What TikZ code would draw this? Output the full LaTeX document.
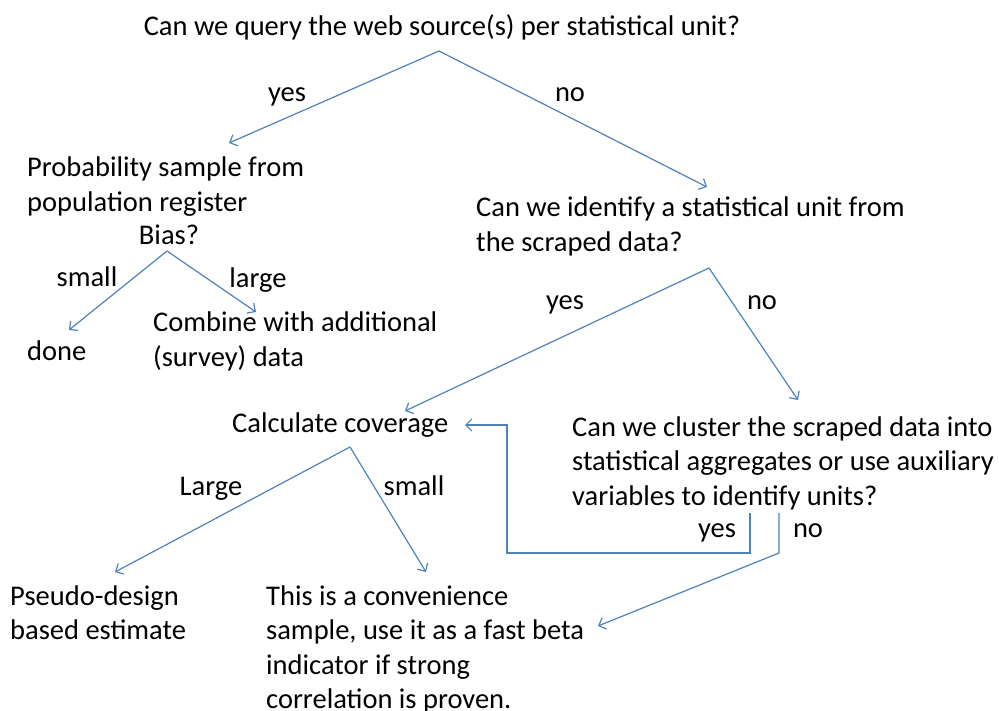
\documentclass[tikz,border=0pt]{standalone}
\usepackage{fontspec}
\setmainfont{Carlito}
\usetikzlibrary{arrows.meta}
\definecolor{linkblue}{RGB}{79,129,189}
\begin{document}
\begin{tikzpicture}[x=1pt,y=-1pt,
  txt/.style={inner sep=0pt,anchor=base west,align=left,font=\fontsize{28.5}{34.5}\selectfont},
  lbl/.style={inner sep=0pt,anchor=base,font=\fontsize{28.5}{34.5}\selectfont},
  link/.style={draw=linkblue,line width=1.2pt,-{Straight Barb[length=6pt,width=12pt]}}]
\useasboundingbox (0,0) rectangle (999,711);

% questions and outcomes (multi-line nodes sit on the baseline of their last line)
\node[lbl] (q1) at (442,36) {Can we query the web source(s) per statistical unit?};
\node[txt] (prob) at (27,211.5) {Probability sample from\\population register};
\node[lbl] (bias) at (169,245) {Bias?};
\node[txt] (done) at (27,360) {done};
\node[txt] (comb) at (153,366.5) {Combine with additional\\(survey) data};
\node[txt] (q2) at (476,251.5) {Can we identify a statistical unit from\\the scraped data?};
\node[txt] (cov) at (232,432) {Calculate coverage};
\node[txt] (q3) at (572,505) {Can we cluster the scraped data into\\statistical aggregates or use auxiliary\\variables to identify units?};
\node[txt] (pseudo) at (10,639.5) {Pseudo-design\\based estimate};
\node[txt] (conv) at (266,708.5) {This is a convenience\\sample, use it as a fast beta\\indicator if strong\\correlation is proven.};

% branch points and arrow ends
\coordinate (q1-fork) at (439,51);
\coordinate (prob-in) at (229,143);
\coordinate (q2-in) at (707,187);
\coordinate (bias-fork) at (167,251);
\coordinate (done-in) at (69,330);
\coordinate (comb-in) at (256,312);
\coordinate (q2-fork) at (709,268);
\coordinate (cov-in) at (405,411);
\coordinate (q3-in) at (798,400);
\coordinate (cov-fork) at (350,447);
\coordinate (pseudo-in) at (115,572);
\coordinate (conv-in) at (426,572);
\coordinate (q3-yes) at (750,513);
\coordinate (q3-no) at (779,513);
\coordinate (cov-back) at (465,425);
\coordinate (conv-side) at (598,626);

% connectors
\draw[link] (q1-fork) -- (prob-in);
\draw[link] (q1-fork) -- (q2-in);
\draw[link] (bias-fork) -- (done-in);
\draw[link] (bias-fork) -- (comb-in);
\draw[link] (q2-fork) -- (cov-in);
\draw[link] (q2-fork) -- (q3-in);
\draw[link] (cov-fork) -- (pseudo-in);
\draw[link] (cov-fork) -- (conv-in);
\draw[link] (q3-yes) -- ++(0,40) -| (507,425) -- (cov-back);
\draw[link] (q3-no) -- ++(0,40) -- (conv-side);

% branch labels
\node[lbl] (l-yes1) at (287,102) {yes};
\node[lbl] (l-no1) at (570,102) {no};
\node[lbl] (l-small1) at (87,287) {small};
\node[lbl] (l-large1) at (258,288) {large};
\node[lbl] (l-yes2) at (565,310) {yes};
\node[lbl] (l-no2) at (762,310) {no};
\node[lbl] (l-large3) at (211,495) {Large};
\node[lbl] (l-small3) at (414,495) {small};
\node[lbl] (l-yes4) at (717,537) {yes};
\node[lbl] (l-no4) at (808,537) {no};
\end{tikzpicture}
\end{document}
